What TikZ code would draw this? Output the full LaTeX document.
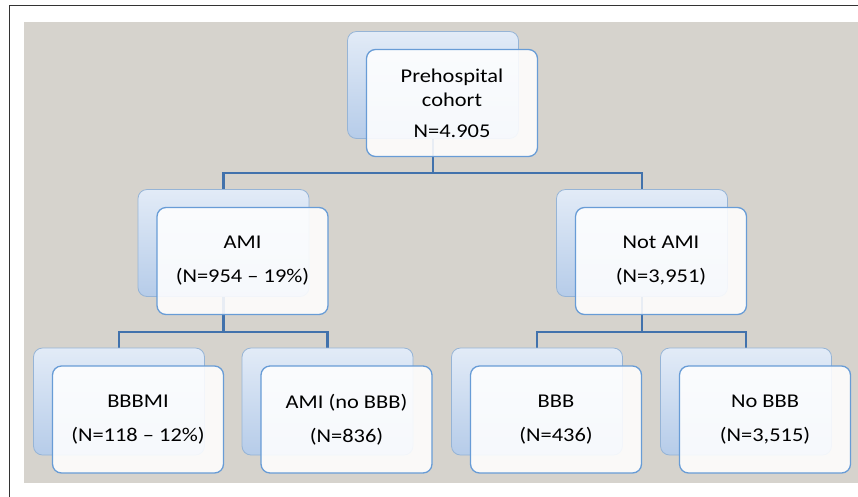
\documentclass[tikz,border=0pt]{standalone}
\usepackage{fontspec}
\setmainfont{Carlito}[FakeStretch=1.15]
\usetikzlibrary{positioning}

\definecolor{bggray}{RGB}{214,211,205}
\definecolor{linkblue}{RGB}{66,114,172}
\definecolor{frontblue}{RGB}{104,156,214}
\definecolor{backblue}{RGB}{150,180,214}
\definecolor{backtop}{RGB}{226,235,247}
\definecolor{backbot}{RGB}{182,204,233}

\pgfdeclarelayer{bg}
\pgfdeclarelayer{lines}
\pgfsetlayers{bg,lines,main}

\tikzset{
  backbox/.style={draw=backblue, line width=0.8pt, rounded corners=9pt,
    top color=backtop, bottom color=backbot, minimum width=171pt,
    minimum height=107pt, inner sep=0pt},
  frontbox/.style={draw=frontblue, line width=1.3pt, rounded corners=9pt,
    fill=white, fill opacity=0.88, text opacity=1, minimum width=171pt,
    minimum height=107pt, inner sep=0pt, align=center,
    font=\fontsize{19.5}{24}\selectfont, xshift=19pt, yshift=-18pt},
  link/.style={draw=linkblue, line width=2.5pt}
}

\begin{document}
\begin{tikzpicture}[x=1pt,y=-1pt]
  \useasboundingbox (0,0) rectangle (858,496);
  \begin{pgfonlayer}{bg}
    \fill[bggray] (24,22) rectangle (870,483);
    \draw[black!80, line width=1.4pt] (9.5,520) -- (9.5,5.5) -- (880,5.5);
  \end{pgfonlayer}

  % shadow boxes
  \node[backbox] (rootb) at (433,85) {};
  \node[backbox] (amib) at (223.5,243) {};
  \node[backbox] (notamib) at (642,243) {};
  \node[backbox] (bbbmib) at (119,401.5) {};
  \node[backbox] (aminob) at (327.5,401.5) {};
  \node[backbox] (bbbb) at (537,401.5) {};
  \node[backbox] (nobbbb) at (746,401.5) {};

  % boxes with text
  \node[frontbox] (root) at (rootb) {Prehospital\\cohort\\[7pt]N=4.905};
  \node[frontbox] (ami) at (amib) {AMI\\[10pt](N=954 – 19\%)};
  \node[frontbox] (notami) at (notamib) {Not AMI\\[10pt](N=3,951)};
  \node[frontbox] (bbbmi) at (bbbmib) {BBBMI\\[10pt](N=118 – 12\%)};
  \node[frontbox] (amino) at (aminob) {AMI (no BBB)\\[10pt](N=836)};
  \node[frontbox] (bbb) at (bbbb) {BBB\\[10pt](N=436)};
  \node[frontbox] (nobbb) at (nobbbb) {No BBB\\[10pt](N=3,515)};

  \begin{pgfonlayer}{lines}
    \draw[link] (rootb.center) -- ++(0,88) -| (amib.center);
    \draw[link] (rootb.center) -- ++(0,88) -| (notamib.center);
    \draw[link] (amib.center) -- ++(0,89) -| (bbbmib.center);
    \draw[link] (amib.center) -- ++(0,89) -| (aminob.center);
    \draw[link] (notamib.center) -- ++(0,89) -| (bbbb.center);
    \draw[link] (notamib.center) -- ++(0,89) -| (nobbbb.center);
  \end{pgfonlayer}
\end{tikzpicture}
\end{document}
